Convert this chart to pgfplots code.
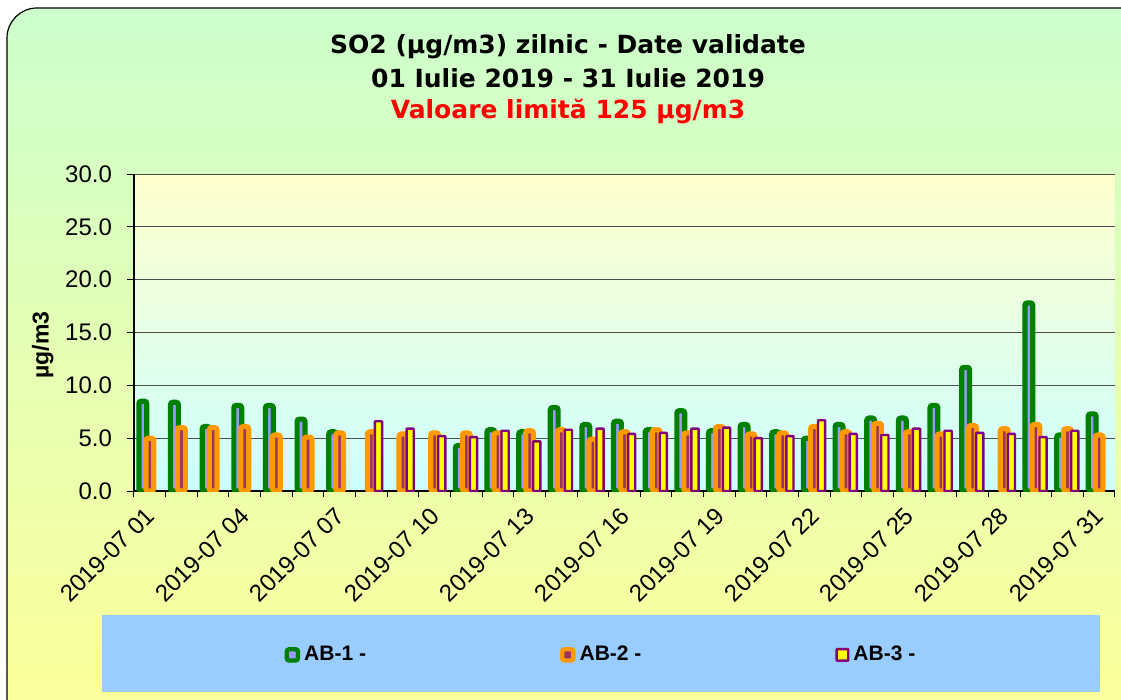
\documentclass[border=0pt]{standalone}
\usepackage{fontspec}
\setmainfont{Liberation Sans}
\newfontfamily\titlefont{DejaVu Sans}
\usepackage{pgfplots}
\pgfplotsset{compat=1.18}

\definecolor{abgreen}{RGB}{0,128,0}
\definecolor{ablav}{RGB}{153,153,255}
\definecolor{aborange}{RGB}{255,153,0}
\definecolor{abplum}{RGB}{153,51,102}
\definecolor{abpurple}{RGB}{128,0,128}
\definecolor{abyellow}{RGB}{255,255,0}
\definecolor{outgreen}{RGB}{204,255,204}
\definecolor{outyellow}{RGB}{255,255,153}
\definecolor{legblue}{RGB}{153,204,255}
\definecolor{plottop}{RGB}{255,255,204}
\definecolor{plotmid}{RGB}{218,255,238}
\definecolor{plotbot}{RGB}{204,255,255}

\pgfplotstableread{
day val
1 8.5
2 8.4
3 6.1
4 8.1
5 8.1
6 6.8
7 5.6
11 4.3
12 5.8
13 5.6
14 7.9
15 6.3
16 6.6
17 5.8
18 7.6
19 5.7
20 6.3
21 5.6
22 5.0
23 6.3
24 6.9
25 6.9
26 8.1
27 11.7
29 17.8
30 5.3
31 7.3
}\abone

\pgfplotstableread{
day val
1 5.0
2 6.0
3 6.0
4 6.1
5 5.3
6 5.1
7 5.5
8 5.6
9 5.4
10 5.5
11 5.5
12 5.5
13 5.7
14 5.8
15 4.9
16 5.6
17 5.8
18 5.5
19 6.1
20 5.4
21 5.5
22 6.1
23 5.6
24 6.4
25 5.6
26 5.4
27 6.2
28 5.9
29 6.3
30 5.9
31 5.3
}\abtwo

\pgfplotstableread{
day val
8 6.6
9 5.9
10 5.2
11 5.1
12 5.7
13 4.7
14 5.8
15 5.9
16 5.4
17 5.5
18 5.9
19 6.0
20 5.0
21 5.2
22 6.7
23 5.4
24 5.3
25 5.9
26 5.7
27 5.5
28 5.4
29 5.1
30 5.7
}\abthree

\pgfplotsset{
  barA/.style={ybar, bar width=3.9pt, bar shift=-3.5pt, draw=abgreen, fill=ablav,
    line width=2.6pt, rounded corners=1.2pt,
    legend image code/.code={\draw[##1,bar width=5.6pt,bar shift=0pt,line width=2.2pt,yshift=-2.8pt] plot coordinates {(2.8pt,5.6pt)};}},
  barB/.style={ybar, bar width=3.9pt, bar shift=0pt, draw=aborange, fill=abplum,
    line width=2.6pt, rounded corners=1.2pt,
    legend image code/.code={\draw[##1,bar width=5.6pt,bar shift=0pt,line width=2.2pt,yshift=-2.8pt] plot coordinates {(2.8pt,5.6pt)};}},
  barC/.style={ybar, bar width=3.6pt, bar shift=3.6pt, draw=abpurple, fill=abyellow,
    line width=1.2pt, rounded corners=0.3pt,
    legend image code/.code={\draw[##1,bar width=5.8pt,bar shift=0pt,yshift=-2.9pt] plot coordinates {(2.9pt,5.8pt)};}},
}

\begin{document}
\begin{tikzpicture}
\useasboundingbox (0,0) rectangle (560.5pt,-350pt);
\fill[white] (0,0) rectangle (560.5pt,-350pt);
\shadedraw[top color=outgreen, bottom color=outyellow, draw=black, line width=0.6pt, rounded corners=15pt]
  (3.5pt,-4pt) rectangle (580pt,-370pt);
\fill[legblue] (51pt,-307.5pt) rectangle (550pt,-346pt);

\node[font=\titlefont\bfseries\fontsize{12.5}{15}\selectfont, anchor=base] at (284pt,-27pt) {SO2 (µg/m3) zilnic - Date validate};
\node[font=\titlefont\bfseries\fontsize{12.5}{15}\selectfont, anchor=base] at (284pt,-44pt) {01 Iulie 2019 - 31 Iulie 2019};
\node[font=\titlefont\bfseries\fontsize{12.5}{15}\selectfont, anchor=base, text=red] at (284pt,-59.5pt) {Valoare limită 125 µg/m3};

\begin{axis}[
  at={(67pt,-245.5pt)}, anchor=south west,
  scale only axis, width=490.5pt, height=158.5pt,
  xmin=0.5, xmax=31.5, ymin=0, ymax=30,
  axis x line*=bottom, axis y line*=left,
  axis line style={-, black, line width=0.6pt},
  ytick={0,5,...,30},
  ymajorgrids, grid style={black!70, line width=0.5pt},
  tick align=outside, major tick length=3.5pt, minor tick length=3pt,
  tick style={black, line width=0.5pt},
  xtick={1,4,7,10,13,16,19,22,25,28,31},
  xticklabels={2019-07 01,2019-07 04,2019-07 07,2019-07 10,2019-07 13,2019-07 16,2019-07 19,2019-07 22,2019-07 25,2019-07 28,2019-07 31},
  major x tick style={draw=none},
  minor xtick={0.5,1.5,...,31.5},
  minor x tick style={draw=black, line width=0.5pt},
  xticklabel style={yshift=-6pt, xshift=1pt, rotate=45, anchor=east, font=\fontsize{12}{14}\selectfont, inner sep=1pt},
  yticklabel style={font=\fontsize{12}{14}\selectfont, xshift=-4pt},
  /pgf/number format/.cd, fixed, fixed zerofill, precision=1, assume math mode=true,
  /pgfplots/.cd,
  ylabel={µg/m3},
  ylabel style={at={(axis description cs:-0.093,0.46)}, anchor=center, rotate=0, font=\bfseries\fontsize{11.5}{13}\selectfont},
  axis background/.style={shade, top color=plottop, middle color=plotmid, bottom color=plotbot},
  legend columns=3,
  legend style={at={(axis description cs:0.477,-0.517)}, anchor=center, draw=none, fill=none,
    font=\bfseries\fontsize{10.5}{12}\selectfont,
    /tikz/every even column/.append style={column sep=95pt},
    legend cell align=left},
]
\addplot[barA] table[x=day, y=val] {\abone};
\addlegendentry{AB-1 -}
\addplot[barB] table[x=day, y=val] {\abtwo};
\addlegendentry{AB-2 -}
\addplot[barC] table[x=day, y=val] {\abthree};
\addlegendentry{AB-3 -}
\end{axis}
\end{tikzpicture}
\end{document}
